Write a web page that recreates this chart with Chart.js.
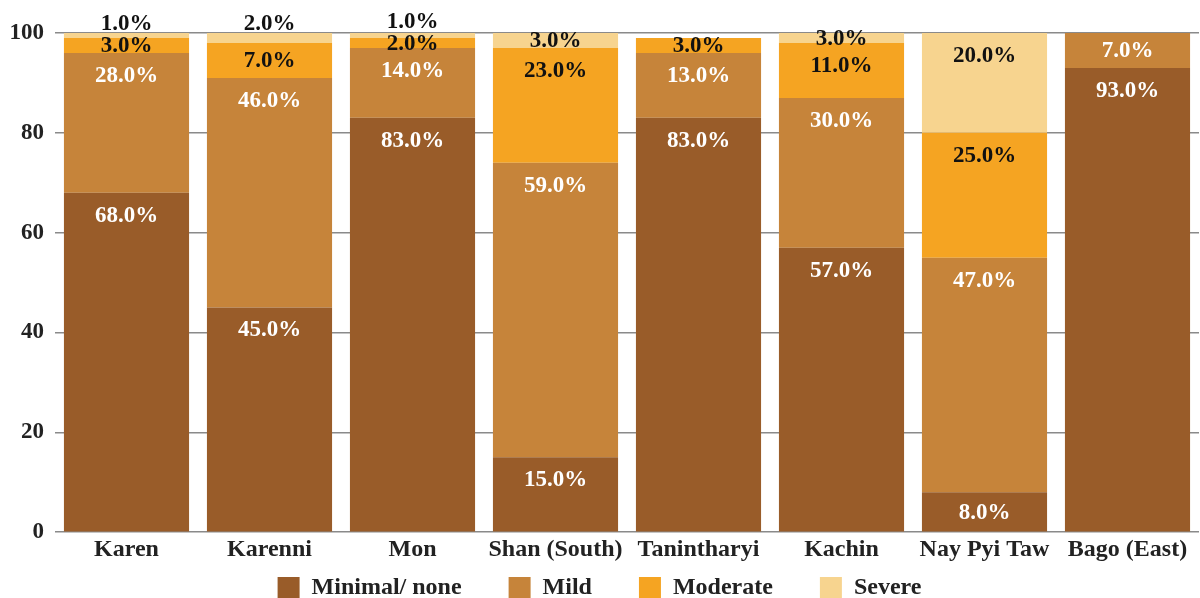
<!DOCTYPE html>
<html>
<head>
<meta charset="utf-8">
<script src="https://cdn.jsdelivr.net/npm/chart.js@4/dist/chart.umd.min.js"></script>
<style>
html,body{margin:0;padding:0;background:#fff;}
#wrap{width:1200px;height:598px;position:relative;}
</style>
</head>
<body>
<div id="wrap"><canvas id="c"></canvas></div>
<script>
const categories = ["Karen","Karenni","Mon","Shan (South)","Tanintharyi","Kachin","Nay Pyi Taw","Bago (East)"];
const seriesNames = ["Minimal/ none","Mild","Moderate","Severe"];
const minimalNone = [68,45,83,15,83,57,8,93];
const mild = [28,46,14,59,13,30,47,7];
const moderate = [3,7,2,23,3,11,25,0];
const severe = [1,2,1,3,0,3,20,0];
const yTicks = [0,20,40,60,80,100];

const colors = ["#995C29","#C6843A","#F5A422","#F7D48F"];
const labelColors = ["#ffffff","#ffffff","#111111","#111111"];
const FONT = "'Liberation Serif','Times New Roman',serif";
const LEGEND_GAP = 47;

const labelPlugin = {
  id: 'segLabels',
  afterDatasetsDraw(chart) {
    const ctx = chart.ctx;
    ctx.save();
    ctx.font = "bold 23px " + FONT;
    ctx.textAlign = 'center';
    ctx.textBaseline = 'middle';
    const n = chart.data.labels.length;
    const nd = chart.data.datasets.length;
    const cTop = chart.chartArea.top;
    for (let i = 0; i < n; i++) {
      let prevY = null;
      for (let d = 0; d < nd; d++) {
        const v = chart.data.datasets[d].data[i];
        if (!v) continue;
        const el = chart.getDatasetMeta(d).data[i];
        const top = el.y;
        const h = el.base - top;
        let y;
        if (d === nd - 1 && h < 12) {
          y = Math.max(top, cTop) - 10;
        } else {
          y = top + Math.min(22, h / 2);
          if (top < cTop) y = Math.max(y, (cTop + el.base) / 2);
        }
        if (prevY !== null && prevY - y < 22) y = prevY - 22;
        prevY = y;
        ctx.fillStyle = labelColors[d];
        ctx.fillText(v.toFixed(1) + '%', el.x, y + 1);
      }
    }
    ctx.restore();
  }
};

const legendPlacePlugin = {
  id: 'legendPlace',
  afterInit(chart) {
    const lg = chart.legend;
    if (!lg || lg._patched) return;
    const origFit = lg.fit;
    lg.fit = function () { origFit.call(this); this.height = 31; };
    lg._patched = true;
  },
  afterLayout(chart) {
    const lg = chart.legend;
    const shift = LEGEND_GAP - 9;
    lg.top -= shift;
    lg.height = lg.bottom - lg.top;
  }
};

const seriesData = [minimalNone, mild, moderate, severe];
new Chart(document.getElementById('c'), {
  type: 'bar',
  data: {
    labels: categories,
    datasets: seriesNames.map((name, k) => ({
      label: name,
      data: seriesData[k],
      backgroundColor: colors[k],
      borderWidth: 0,
      barPercentage: 0.875,
      categoryPercentage: 1.0
    }))
  },
  options: {
    responsive: true,
    maintainAspectRatio: false,
    animation: false,
    events: [],
    layout: { padding: { top: 33, right: 1, left: 0, bottom: 0 } },
    plugins: {
      tooltip: { enabled: false },
      legend: {
        position: 'bottom',
        labels: {
          boxWidth: 22,
          boxHeight: 22,
          padding: LEGEND_GAP,
          color: '#222',
          font: { family: FONT, weight: 'bold', size: 24 }
        }
      }
    },
    scales: {
      x: {
        stacked: true,
        grid: { display: false, drawTicks: false },
        border: { display: false },
        ticks: { color: '#222', font: { family: FONT, weight: 'bold', size: 24 }, padding: 3, maxRotation: 0 }
      },
      y: {
        stacked: true,
        min: 0,
        max: 100,
        afterBuildTicks(scale) { scale.ticks = yTicks.map(v => ({ value: v })); },
        afterFit(scale) { scale.width = 55; },
        grid: { color: '#8a8a8a', lineWidth: 1.5, drawTicks: false },
        border: { display: false },
        ticks: { color: '#222', font: { family: FONT, weight: 'bold', size: 23 }, padding: 11 }
      }
    }
  },
  plugins: [labelPlugin, legendPlacePlugin]
});
</script>
</body>
</html>
